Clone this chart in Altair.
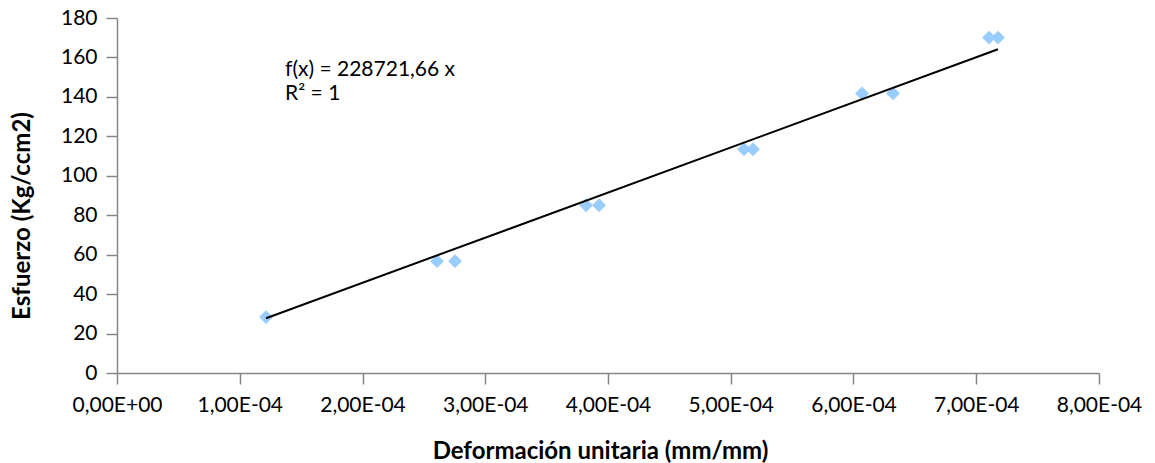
import altair as alt
import pandas as pd

# Measured strain (mm/mm) and stress (Kg/ccm2)
deformacion = [1.214e-4, 2.607e-4, 2.754e-4, 3.821e-4, 3.927e-4, 5.108e-4, 5.181e-4,
               6.069e-4, 6.322e-4, 7.104e-4, 7.177e-4]
esfuerzo = [28.35, 56.7, 56.7, 85.05, 85.05, 113.4, 113.4, 141.75, 141.75, 170.1, 170.1]

# Linear trend through the origin
pendiente = 228721.66
ecuacion = ["f(x) = 228721,66 x", "R² = 1"]

x_ticks = [0, 1e-4, 2e-4, 3e-4, 4e-4, 5e-4, 6e-4, 7e-4, 8e-4]
x_tick_labels = ["0,00E+00", "1,00E-04", "2,00E-04", "3,00E-04", "4,00E-04",
                 "5,00E-04", "6,00E-04", "7,00E-04", "8,00E-04"]
y_ticks = [0, 20, 40, 60, 80, 100, 120, 140, 160, 180]

FONT = "Lato"
GRAY = "#868686"
W, H = 982, 355

# One table for all layers, told apart by "kind"
puntos = pd.DataFrame({"x": deformacion, "y": esfuerzo, "kind": "punto", "t": ""})
x_tr = [min(deformacion), max(deformacion)]
tendencia = pd.DataFrame({"x": x_tr, "y": [v * pendiente for v in x_tr],
                          "kind": "tendencia", "t": ""})
etiqueta = pd.DataFrame({"x": [1.369e-4], "y": [150.4], "kind": "etiqueta",
                         "t": ["\n".join(ecuacion)]})
data = pd.concat([puntos, tendencia, etiqueta], ignore_index=True)

label_expr = "[" + ",".join(f"'{s}'" for s in x_tick_labels) + "][round(datum.value*1e4)]"

x_scale = alt.Scale(domain=[0, 8e-4], nice=False, zero=True)
y_scale = alt.Scale(domain=[0, 180], nice=False)

x_axis = alt.Axis(
    values=x_ticks, labelExpr=label_expr, grid=False,
    labelOverlap=False, labelFlush=False,
    title="Deformación unitaria (mm/mm)", titleFontWeight="bold",
    titleFont=FONT, titleFontSize=24, titleColor="#000000", titlePadding=24,
    titleX=W / 2 - 8,
    labelFont=FONT, labelFontSize=21, labelColor="#000000", labelPadding=10,
    domainColor=GRAY, tickColor=GRAY, tickSize=11, domainWidth=1.5, tickWidth=1.5,
)
y_axis = alt.Axis(
    values=y_ticks, tickCount=10, grid=False,
    labelOverlap=False, labelFlush=False,
    title="Esfuerzo (Kg/ccm2)", titleFontWeight="bold",
    titleFont=FONT, titleFontSize=24, titleColor="#000000", titlePadding=26,
    titleY=H / 2 + 20,
    labelFont=FONT, labelFontSize=21, labelColor="#000000", labelPadding=9,
    domainColor=GRAY, tickColor=GRAY, tickSize=11, domainWidth=1.5, tickWidth=1.5,
)

base = alt.Chart(data).encode(
    x=alt.X("x:Q", scale=x_scale, axis=x_axis),
    y=alt.Y("y:Q", scale=y_scale, axis=y_axis),
)

points = base.mark_point(
    shape="diamond", filled=True, size=190, color="#99CCFF", opacity=1
).transform_filter(alt.datum.kind == "punto")

line = base.mark_line(color="#000000", strokeWidth=2).transform_filter(
    alt.datum.kind == "tendencia"
)

label = base.mark_text(
    align="left", baseline="alphabetic", font=FONT, fontSize=21,
    color="#000000", lineHeight=24, lineBreak="\n"
).encode(text="t:N").transform_filter(alt.datum.kind == "etiqueta")

chart = alt.layer(points, line, label).properties(
    width=W, height=H,
    padding={"left": 117, "top": 18, "right": 56, "bottom": 90},
    autosize=alt.AutoSizeParams(type="none"),
    background="#ffffff",
).configure_view(stroke=None)

chart.save("out.html", embed_options={"renderer": "svg", "actions": False})
